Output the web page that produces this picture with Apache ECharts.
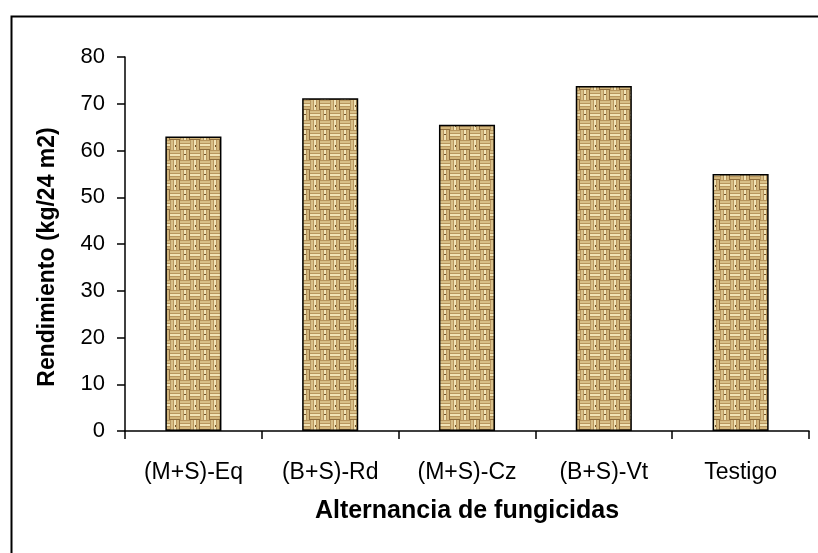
<!DOCTYPE html>
<html>
<head>
<meta charset="utf-8">
<script src="https://cdn.jsdelivr.net/npm/echarts@6/dist/echarts.min.js"></script>
<style>
html,body{margin:0;padding:0;background:#fff;}
#c{width:818px;height:553px;}
</style>
</head>
<body>
<div id="c"></div>
<script>
var categories = ['(M+S)-Eq', '(B+S)-Rd', '(M+S)-Cz', '(B+S)-Vt', 'Testigo'];
var rendimiento = [63, 71.2, 65.5, 73.8, 55];
var yTicks = [0, 10, 20, 30, 40, 50, 60, 70, 80];
var xTitle = 'Alternancia de fungicidas';
var yTitle = 'Rendimiento (kg/24 m2)';

function makeTexture() {
  var cv = document.createElement('canvas');
  var s = 20;
  cv.width = s; cv.height = s;
  var g = cv.getContext('2d');
  g.fillStyle = '#b8965e';
  g.fillRect(0, 0, s, s);
  var q = s / 2;
  for (var qy = 0; qy < 2; qy++) {
    for (var qx = 0; qx < 2; qx++) {
      var ox = qx * q, oy = qy * q;
      var horiz = (qx + qy) % 2 === 0;
      var cols = ['#d8bf88', '#f1e3b5', '#d3b67c'];
      for (var k = 0; k < 3; k++) {
        g.fillStyle = cols[k];
        if (horiz) g.fillRect(ox, oy + 1 + k * 3, q, 2);
        else g.fillRect(ox + 1 + k * 3, oy, 2, q);
      }
      g.fillStyle = '#8e6e3e';
      if (horiz) g.fillRect(ox, oy + q - 1, q, 1);
      else g.fillRect(ox + q - 1, oy, 1, q);
    }
  }
  g.fillStyle = '#6e5028';
  g.fillRect(4, 14, 2, 1);
  g.fillRect(15, 5, 1, 2);
  return cv;
}

var chart = echarts.init(document.getElementById('c'), null, {renderer: 'canvas'});
var font = 'Liberation Sans, Arial, sans-serif';
chart.setOption({
  animation: false,
  backgroundColor: '#fff',
  grid: {left: 125, right: 9, top: 57, bottom: 122, containLabel: false},
  graphic: [{
    type: 'rect', left: 9, top: 14, silent: true,
    shape: {x: 0, y: 0, width: 900, height: 700},
    style: {fill: 'none', stroke: '#000', lineWidth: 2}
  }, {
    type: 'text', silent: true,
    x: 48, y: 257, rotation: Math.PI / 2,
    style: {
      text: yTitle, fontFamily: font, fontSize: 23, fontWeight: 'bold',
      fill: '#000', align: 'center', verticalAlign: 'middle'
    }
  }],
  xAxis: {
    type: 'category',
    data: categories,
    boundaryGap: true,
    name: xTitle,
    nameLocation: 'middle',
    nameGap: 68,
    nameTextStyle: {fontFamily: font, fontSize: 25, fontWeight: 'bold', color: '#000'},
    axisLine: {lineStyle: {color: '#000', width: 1.5}},
    axisTick: {show: true, length: 8, lineStyle: {color: '#000', width: 1.5}},
    axisLabel: {fontFamily: font, fontSize: 23, color: '#000', margin: 30, interval: 0},
    splitLine: {show: false}
  },
  yAxis: {
    type: 'value',
    min: yTicks[0],
    max: yTicks[yTicks.length - 1],
    interval: yTicks[1] - yTicks[0],
    axisLine: {show: true, lineStyle: {color: '#000', width: 1.5}},
    axisTick: {show: true, length: 8, lineStyle: {color: '#000', width: 1.5}},
    axisLabel: {fontFamily: font, fontSize: 22, color: '#000', margin: 20},
    splitLine: {show: false}
  },
  series: [{
    type: 'bar',
    data: rendimiento,
    barWidth: '41%',
    itemStyle: {
      color: {image: makeTexture(), repeat: 'repeat'},
      borderColor: '#000',
      borderWidth: 1.5
    }
  }]
});
</script>
</body>
</html>
